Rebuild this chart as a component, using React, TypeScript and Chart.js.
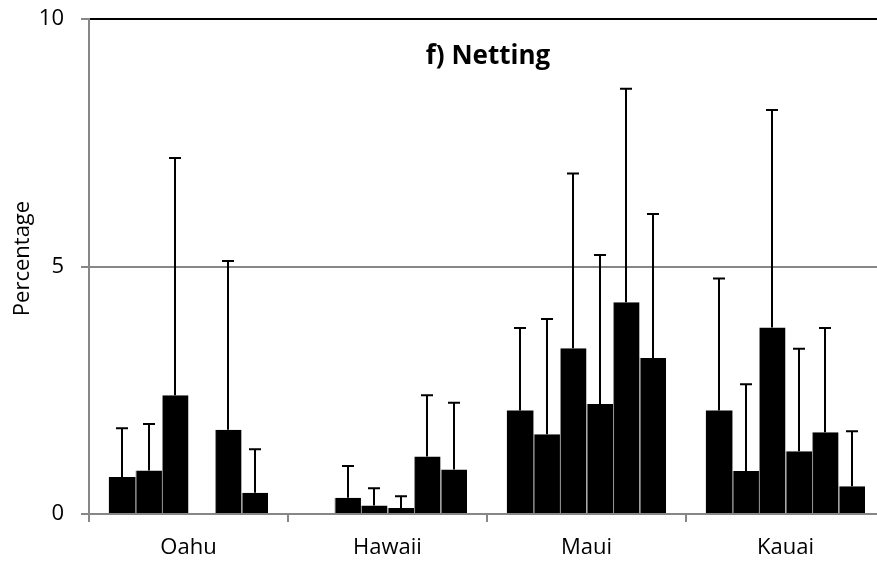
import React, { useEffect, useRef } from "react";
import { Chart, registerables } from "chart.js";

Chart.register(...registerables);

// Islands along the x axis
const islands = ["Oahu", "Hawaii", "Maui", "Kauai"];

// Mean percentage per bar position (one array per bar slot, values per island)
const series1 = [0.75, null, 2.09, 2.09];
const series2 = [0.88, 0.33, 1.61, 0.87];
const series3 = [2.4, 0.17, 3.35, 3.77];
const series4 = [null, 0.12, 2.22, 1.27];
const series5 = [1.7, 1.16, 4.28, 1.65];
const series6 = [0.43, 0.9, 3.15, 0.56];

// Upper error (added on top of the mean)
const error1 = [0.98, null, 1.67, 2.67];
const error2 = [0.94, 0.64, 2.33, 1.75];
const error3 = [4.79, 0.35, 3.53, 4.39];
const error4 = [null, 0.24, 3.01, 2.07];
const error5 = [3.41, 1.24, 4.31, 2.11];
const error6 = [0.88, 1.35, 2.91, 1.11];

const yTicks = [0, 5, 10];
const chartTitle = "f) Netting";
const yTitle = "Percentage";

const allSeries = [series1, series2, series3, series4, series5, series6];
const allErrors = [error1, error2, error3, error4, error5, error6];

const FONT = "'Open Sans', sans-serif";
const AXIS_GREY = "#878787";

const errorBarPlugin = {
  id: "errorBars",
  afterDatasetsDraw(chart: any) {
    const { ctx } = chart;
    const yScale = chart.scales.y;
    ctx.save();
    ctx.strokeStyle = "#000";
    ctx.lineWidth = 2;
    chart.data.datasets.forEach((ds: any, di: number) => {
      const meta = chart.getDatasetMeta(di);
      const errs = allErrors[di];
      meta.data.forEach((bar: any, i: number) => {
        const v = ds.data[i];
        const e = errs[i];
        if (v == null || e == null) return;
        const x = Math.round(bar.x);
        const yTop = yScale.getPixelForValue(v);
        const yEnd = yScale.getPixelForValue(v + e);
        ctx.beginPath();
        ctx.moveTo(x, yTop);
        ctx.lineTo(x, yEnd);
        ctx.moveTo(x - 6, yEnd);
        ctx.lineTo(x + 6, yEnd);
        ctx.stroke();
      });
    });
    ctx.restore();
  },
};

// Chart title inside the plot area and the rotated y-axis title
const textPlugin = {
  id: "chartTexts",
  afterDraw(chart: any) {
    const { ctx, chartArea } = chart;
    ctx.save();
    ctx.fillStyle = "#000";
    ctx.font = `bold 26px ${FONT}`;
    ctx.textAlign = "center";
    ctx.textBaseline = "middle";
    ctx.fillText(chartTitle, (chartArea.left + chartArea.right) / 2 + 1, chartArea.top + 38);

    ctx.font = `22px ${FONT}`;
    ctx.translate(chartArea.left - 66, (chartArea.top + chartArea.bottom) / 2 - 8);
    ctx.rotate(-Math.PI / 2);
    ctx.fillText(yTitle, 0, 0);
    ctx.restore();
  },
};

export default function App() {
  const canvasRef = useRef<HTMLCanvasElement | null>(null);

  useEffect(() => {
    document.body.style.margin = "0";
    document.body.style.overflow = "hidden";
    const canvas = canvasRef.current;
    if (!canvas) return;
    const chart = new Chart(canvas, {
      type: "bar",
      data: {
        labels: islands,
        datasets: allSeries.map((s, i) => ({
          label: `Series ${i + 1}`,
          data: s,
          backgroundColor: "#000",
          borderColor: "#8a8a8a",
          borderWidth: i === 0 ? 0 : { left: 1, right: 0, top: 0, bottom: 0 },
          borderSkipped: false,
          inflateAmount: 0,
          categoryPercentage: 0.8,
          barPercentage: 1.0,
        })),
      },
      options: {
        animation: false,
        responsive: false,
        devicePixelRatio: 1,
        layout: { padding: { top: 19, right: 10, left: 0, bottom: 0 } },
        plugins: {
          legend: { display: false },
          title: { display: false },
          tooltip: { enabled: false },
        },
        scales: {
          x: {
            grid: {
              offset: true,
              drawOnChartArea: false,
              drawTicks: true,
              tickLength: 8,
              color: AXIS_GREY,
              lineWidth: 2,
            },
            border: { color: AXIS_GREY, width: 2 },
            ticks: {
              color: "#000",
              font: { family: FONT, size: 22 },
              padding: 13,
            },
            afterFit(scale: any) {
              scale.height = 53;
              scale.paddingLeft = 0;
              scale.paddingRight = 0;
            },
          },
          y: {
            min: 0,
            max: 10,
            afterBuildTicks(scale: any) {
              scale.ticks = yTicks.map((v) => ({ value: v }));
            },
            grid: {
              color: (c: any) => (c.tick && c.tick.value === 10 ? "#000" : AXIS_GREY),
              lineWidth: 2,
              drawTicks: true,
              tickLength: 8,
              tickColor: AXIS_GREY,
            },
            border: { color: AXIS_GREY, width: 2 },
            ticks: {
              color: "#000",
              font: { family: FONT, size: 22 },
              padding: 17,
            },
            title: { display: false },
            afterFit(scale: any) {
              scale.width = 89;
              scale.paddingTop = 0;
              scale.paddingBottom = 0;
            },
          },
        },
      },
      plugins: [errorBarPlugin, textPlugin],
    });
    return () => chart.destroy();
  }, []);

  return <canvas ref={canvasRef} width={895} height={567} style={{ display: "block" }} />;
}
